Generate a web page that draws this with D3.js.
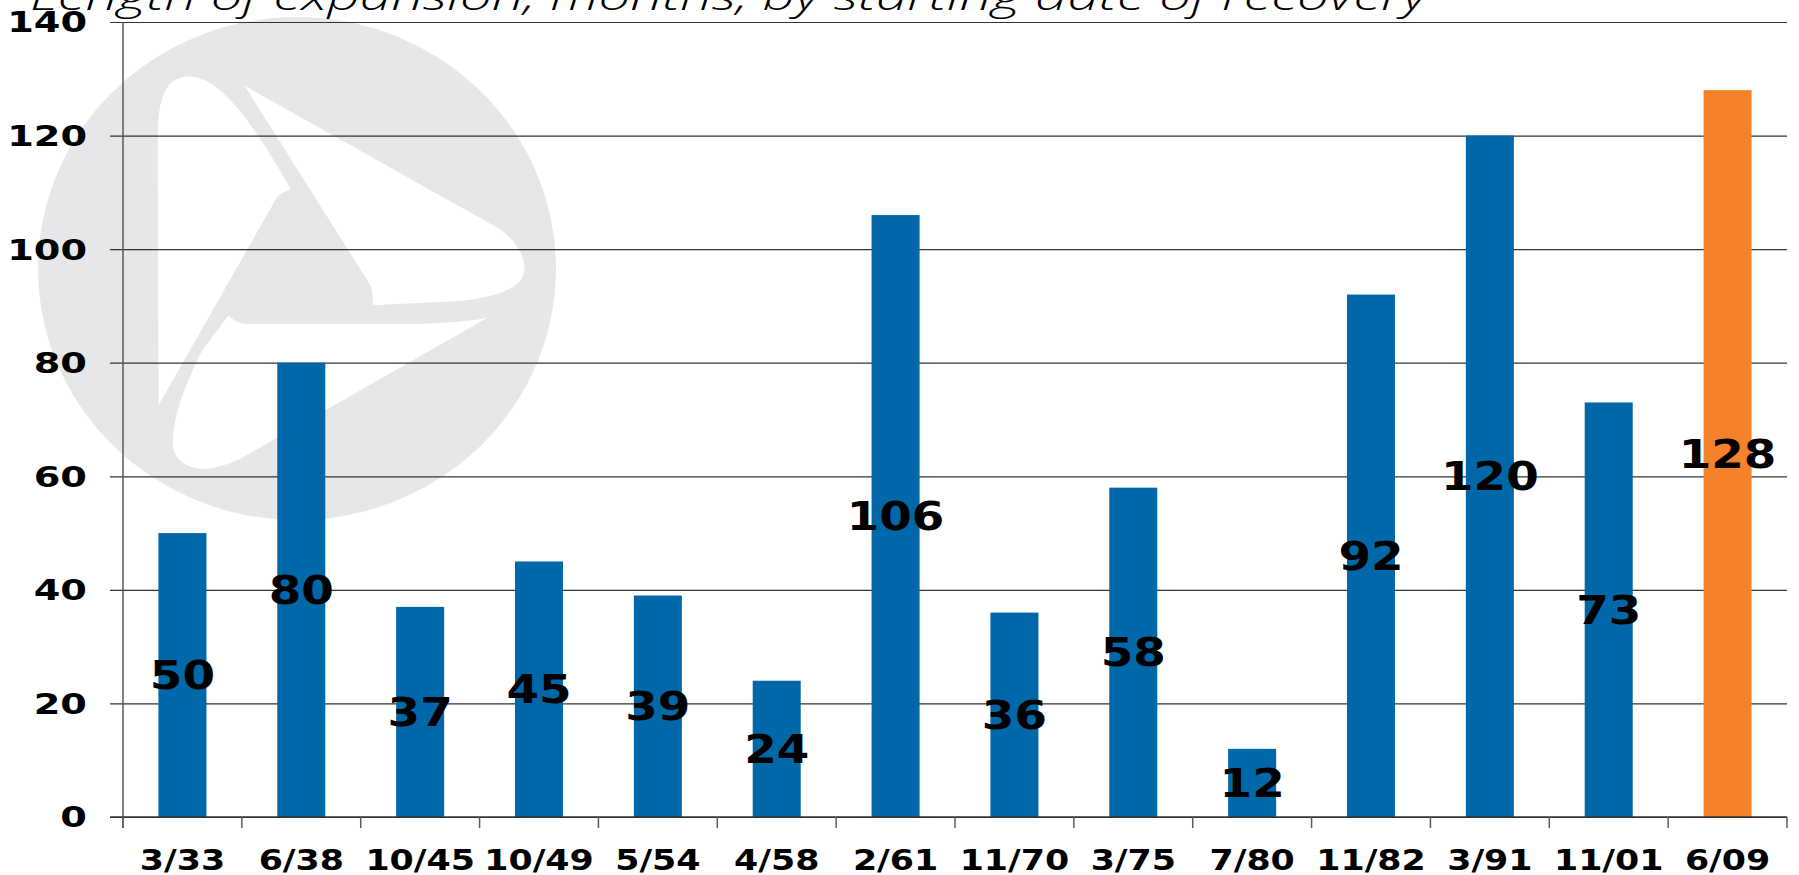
<!DOCTYPE html>
<html>
<head>
<meta charset="utf-8">
<script src="https://cdnjs.cloudflare.com/ajax/libs/d3/7.8.5/d3.min.js"></script>
<style>
  html, body { margin: 0; padding: 0; background: #fff; overflow: hidden; }
  svg { display: block; }
</style>
</head>
<body>
<div class="chart"></div>
<script>
// expansion lengths (months) by starting date of recovery
var recoveries = ["3/33", "6/38", "10/45", "10/49", "5/54", "4/58", "2/61",
                  "11/70", "3/75", "7/80", "11/82", "3/91", "11/01", "6/09"];
var months = [50, 80, 37, 45, 39, 24, 106, 36, 58, 12, 92, 120, 73, 128];
var yTicks = [0, 20, 40, 60, 80, 100, 120, 140];
var titleText = "Length of expansion, months, by starting date of recovery";

var svg_width = 1799;
var svg_height = 875;
var plot = { left: 123, right: 1787, top: 22, bottom: 817 };
var stretch = 1.2; // text in the original is drawn wide

var data = recoveries.map((d, i) => ({ label: d, value: months[i], current: i == recoveries.length - 1 }));

var svg = d3.select(".chart")
            .append("svg")
            .attr("width", svg_width)
            .attr("height", svg_height);

var x = d3.scaleBand()
          .domain(recoveries)
          .range([plot.left, plot.right])
          .paddingInner(0.596)
          .paddingOuter(0.298);

var y = d3.scaleLinear()
          .domain([0, 140])
          .range([plot.bottom, plot.top]);

// watermark logo behind everything
var logo = svg.append("g").attr("class", "watermark");
logo.append("ellipse")
    .attr("cx", 297).attr("cy", 268.5)
    .attr("rx", 259).attr("ry", 251.5)
    .style("fill", "#e6e7e8");
logo.append("path")
    .attr("d", "M158.6,405 L157.9,131 C158.6,82.8 175,76.6 190.7,76.6 C219,79 248,114 290.7,189 C284,192 279,194 276.4,198.3 Z")
    .style("fill", "#fff");
logo.append("path")
    .attr("d", "M244.3,85.5 L490.7,224.1 C524.6,241.4 524.6,267.2 524.6,267.2 C524.6,290 494.3,296.6 460,301 L372.9,305.2 C373,296 372,290 371,286 Z")
    .style("fill", "#fff");
logo.append("path")
    .attr("d", "M228.2,315.5 C235,321 241,324.1 247.9,324.1 L400,324 C440,324 470,321 487.1,317.9 L240.7,458.6 C225,466 212,469 205,469 C185,469 172.9,458 172.9,444.8 C172.9,420 180,396 201.4,351.7 Z")
    .style("fill", "#fff");

// gridlines
var yGrid = d3.axisLeft(y)
              .tickValues(yTicks)
              .tickSizeInner(-(plot.right - plot.left))
              .tickSizeOuter(0)
              .tickFormat("");

var gy = svg.append("g")
            .attr("class", "y axis grid")
            .attr("transform", "translate(" + plot.left + ",0)")
            .call(yGrid);
gy.select(".domain").remove();
gy.selectAll(".tick line")
  .attr("x1", -13)
  .style("stroke", "#333")
  .style("stroke-width", 1.2);

// y labels
svg.append("g")
   .selectAll("text")
   .data(yTicks)
   .enter()
   .append("text")
   .attr("transform", d => "translate(87," + y(d) + ") scale(1.32,1)")
   .attr("dy", "0.36em")
   .attr("text-anchor", "end")
   .style("font-family", "'DejaVu Sans', sans-serif")
   .style("font-weight", "bold")
   .style("font-size", "29px")
   .style("fill", "#000")
   .text(d => d);

// bars
svg.append("g")
   .selectAll("rect")
   .data(data)
   .enter()
   .append("rect")
   .attr("x", d => x(d.label))
   .attr("y", d => y(d.value))
   .attr("width", x.bandwidth())
   .attr("height", d => y(0) - y(d.value))
   .style("fill", d => d.current ? "#f5812a" : "#0068a9");

// axis lines
svg.append("line")
   .attr("x1", plot.left).attr("x2", plot.left)
   .attr("y1", plot.top).attr("y2", plot.bottom + 11)
   .style("stroke", "#5a5a5a")
   .style("stroke-width", 1.5);
svg.append("line")
   .attr("x1", plot.left - 13).attr("x2", plot.right)
   .attr("y1", plot.bottom).attr("y2", plot.bottom)
   .style("stroke", "#333")
   .style("stroke-width", 1.5);

// category boundary ticks
var bounds = recoveries.map((d, i) => plot.left + i * x.step());
bounds.push(plot.right);
svg.append("g")
   .selectAll("line")
   .data(bounds)
   .enter()
   .append("line")
   .attr("x1", d => d).attr("x2", d => d)
   .attr("y1", plot.bottom).attr("y2", plot.bottom + 11)
   .style("stroke", "#5a5a5a")
   .style("stroke-width", 1.5);

// x labels
svg.append("g")
   .selectAll("text")
   .data(data)
   .enter()
   .append("text")
   .attr("transform", d => "translate(" + (x(d.label) + x.bandwidth() / 2) + ",870) scale(" + stretch + ",1)")
   .attr("text-anchor", "middle")
   .style("font-family", "'DejaVu Sans', sans-serif")
   .style("font-weight", "bold")
   .style("font-size", "29px")
   .style("fill", "#000")
   .text(d => d.label);

// value labels in the middle of each bar
svg.append("g")
   .selectAll("text")
   .data(data)
   .enter()
   .append("text")
   .attr("transform", d => "translate(" + (x(d.label) + x.bandwidth() / 2) + "," + y(d.value / 2) + ") scale(" + stretch + ",1)")
   .attr("dy", "0.36em")
   .attr("text-anchor", "middle")
   .style("font-family", "'DejaVu Sans', sans-serif")
   .style("font-weight", "bold")
   .style("font-size", "39px")
   .style("fill", "#000")
   .text(d => d.value);

// title, cut off at the top like the original
svg.append("text")
   .attr("x", 30)
   .attr("y", 10)
   .attr("textLength", 1397)
   .attr("lengthAdjust", "spacingAndGlyphs")
   .style("font-family", "'Open Sans', sans-serif")
   .style("font-style", "italic")
   .style("font-weight", 300)
   .style("font-size", "38px")
   .style("fill", "#000")
   .text(titleText);
</script>
</body>
</html>
